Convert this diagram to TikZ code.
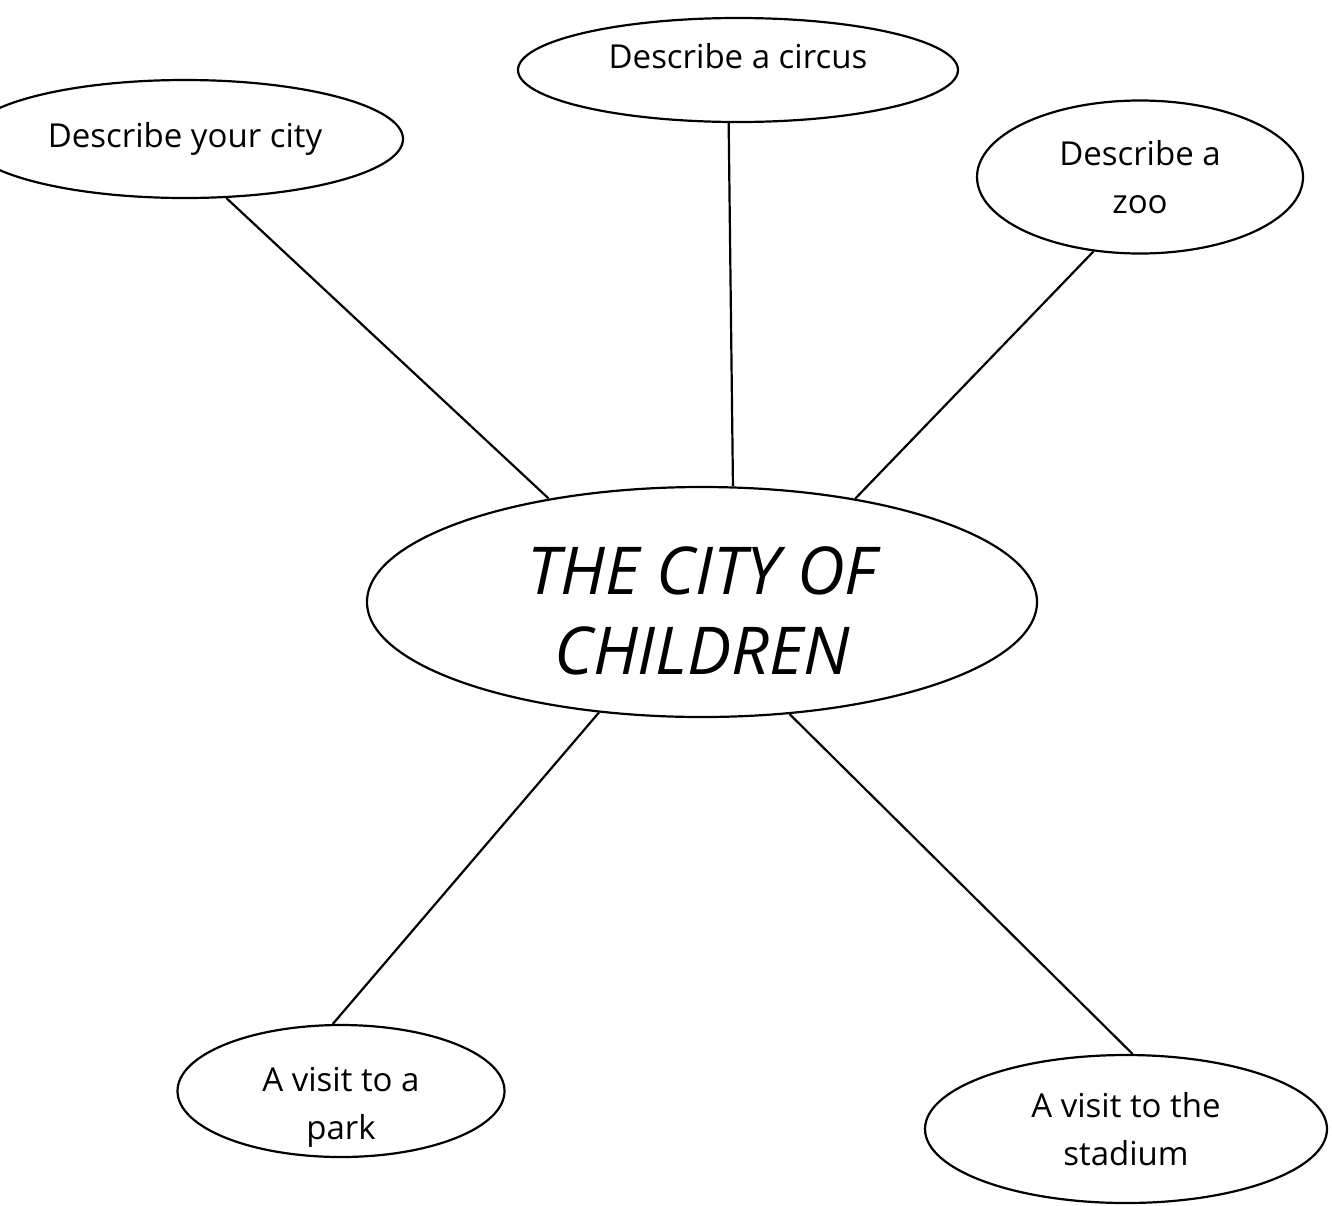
\documentclass[tikz,border=0pt]{standalone}
\usepackage{fontspec}
\setmainfont{Open Sans}
\usetikzlibrary{shapes.geometric}
\begin{document}
\begin{tikzpicture}[x=0.5pt,y=-0.5pt,
  bubble/.style={draw, ellipse, line width=1.1pt, inner sep=0pt, align=center,
    font=\fontsize{16.5}{24}\selectfont},
  hub/.style={draw, ellipse, line width=1.1pt, inner sep=0pt, align=center,
    font=\fontsize{33}{40}\selectfont\itshape},
  link/.style={line width=1.1pt}]
\useasboundingbox (0,0) rectangle (1332,1205);
\fill[white] (0,0) rectangle (1332,1205);
\node[bubble, minimum width=218pt, minimum height=59pt] (city) at (185,139) {Describe your city};
\node[bubble, minimum width=220pt, minimum height=52pt] (circus) at (738,70) {\rule[-14pt]{0pt}{14pt}Describe a circus};
\node[bubble, minimum width=163pt, minimum height=76.5pt] (zoo) at (1140,177) {Describe a\\zoo};
\node[hub, minimum width=335pt, minimum height=115pt] (hubnode) at (702,602) {\rule{0pt}{33pt}THE CITY OF\\CHILDREN};
\node[bubble, minimum width=163.5pt, minimum height=66pt] (park) at (341,1091)
  {\raisebox{-12pt}[20pt][20pt]{\begin{tabular}{@{}c@{}}A visit to a\\park\end{tabular}}};
\node[bubble, minimum width=201pt, minimum height=74pt] (stadium) at (1126,1129) {A visit to the\\stadium};
\draw[link] (city.-55) -- (hubnode.146);
\draw[link] (circus.-100) -- (hubnode.75);
\draw[link] (zoo.-122) -- (hubnode.34);
\draw[link] (hubnode.-133) -- (park.97);
\draw[link] (hubnode.-52) -- (stadium.85);
\end{tikzpicture}
\end{document}
